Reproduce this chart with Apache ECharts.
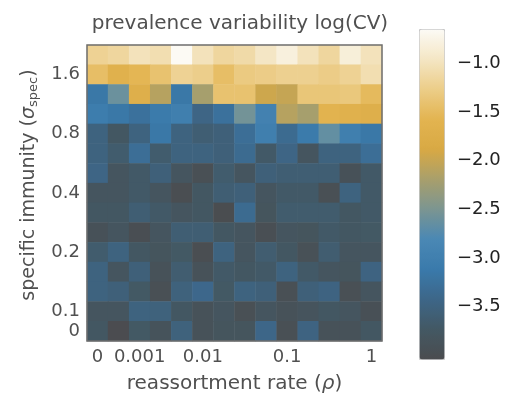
<!DOCTYPE html>
<html>
<head>
<meta charset="utf-8">
<script src="https://cdn.jsdelivr.net/npm/echarts@6/dist/echarts.min.js"></script>
<style>
  html, body { margin: 0; padding: 0; background: #fff; }
  #container { width: 507px; height: 410px; }
</style>
</head>
<body>
<div id="container"></div>
<script>
// reassortment rate (columns) and specific immunity (rows, bottom to top)
var rhoValues = ['0', '0.0005', '0.001', '0.002', '0.005', '0.01', '0.02', '0.03', '0.05', '0.1', '0.2', '0.3', '0.5', '1'];
var rhoTickLabels = ['0', '0.001', '0.01', '0.1', '1'];
var sigmaValues = ['0', '0.1', '0.126', '0.159', '0.2', '0.252', '0.317', '0.4', '0.504', '0.635', '0.8', '1.01', '1.27', '1.6', '2.02'];
var sigmaTickLabels = ['0', '0.1', '0.2', '0.4', '0.8', '1.6'];
var colorbarLabels = [-1.0, -1.5, -2.0, -2.5, -3.0, -3.5];
var colorbarTicks = [];
for (var t = -40; t <= -7; t++) colorbarTicks.push(t / 10);

// log(CV), rows listed from top (largest sigma) to bottom (sigma = 0)
var logCV = [
    [-1.2, -1.15, -1.0, -1.05, -0.65, -1.0, -1.15, -1.1, -0.95, -0.8, -1.0, -1.15, -0.82, -1.0],
    [-1.45, -1.65, -1.55, -1.4, -1.2, -1.25, -1.45, -1.3, -1.27, -1.22, -1.22, -1.27, -1.2, -1.05],
    [-3.15, -2.6, -1.7, -2.1, -3.15, -2.2, -1.4, -1.4, -1.95, -2.0, -1.35, -1.35, -1.33, -1.5],
    [-3.05, -3.15, -3.25, -3.1, -3.0, -3.45, -3.25, -2.55, -2.95, -2.1, -2.2, -1.6, -1.65, -1.7],
    [-3.5, -3.75, -3.5, -3.15, -3.5, -3.6, -3.55, -3.3, -3.0, -3.35, -3.1, -2.65, -3.0, -3.15],
    [-3.5, -3.65, -3.3, -3.65, -3.5, -3.5, -3.55, -3.35, -3.7, -3.45, -3.8, -3.5, -3.5, -3.3],
    [-3.45, -3.8, -3.7, -3.55, -3.8, -3.95, -3.65, -3.8, -3.55, -3.6, -3.6, -3.6, -3.9, -3.7],
    [-3.8, -3.8, -3.7, -3.8, -4.0, -3.75, -3.6, -3.55, -3.8, -3.7, -3.7, -3.95, -3.5, -3.7],
    [-3.75, -3.75, -3.6, -3.7, -3.8, -3.75, -4.02, -3.35, -3.82, -3.65, -3.65, -3.65, -3.75, -3.7],
    [-3.9, -3.8, -3.98, -3.8, -3.6, -3.6, -3.75, -3.8, -3.97, -3.8, -3.82, -3.7, -3.75, -3.72],
    [-3.65, -3.5, -3.75, -3.82, -3.72, -4.0, -3.5, -3.8, -3.62, -3.75, -3.92, -3.62, -3.8, -3.8],
    [-3.5, -3.8, -3.55, -3.88, -3.62, -3.88, -3.7, -3.75, -3.7, -3.5, -3.7, -3.8, -3.82, -3.48],
    [-3.5, -3.55, -3.72, -3.95, -3.52, -3.4, -3.72, -3.5, -3.55, -3.95, -3.55, -3.48, -3.95, -3.8],
    [-3.8, -3.8, -3.5, -3.52, -3.75, -3.88, -3.8, -3.95, -3.8, -3.88, -3.83, -3.75, -3.8, -3.93],
    [-3.75, -4.03, -3.72, -3.85, -3.52, -3.88, -3.82, -3.82, -3.42, -3.95, -3.48, -3.88, -3.88, -3.75]
];

var scaleMin = -4.04;
var scaleMax = -0.646;
// gradient from dark slate (low) through blue, khaki, gold to white (high)
var palette = ['#4b4c4f', '#435863', '#3d6688', '#3a7aab', '#4a88b4', '#7b9591',
    '#a89f6c', '#d8a944', '#e3b450', '#eccd88', '#f4e6c4', '#fcfaf5'];

var font = 'DejaVu Sans, sans-serif';
var textColor = '#505050';

var cells = [];
for (var r = 0; r < logCV.length; r++) {
    var yi = sigmaValues.length - 1 - r;
    for (var c = 0; c < rhoValues.length; c++) {
        cells.push([c, yi, logCV[r][c]]);
    }
}

var myChart = echarts.init(document.getElementById('container'));
var option = {
    animation: false,
    textStyle: {fontFamily: font},
    title: {
        text: 'prevalence variability log(CV)',
        left: 235,
        textAlign: 'center',
        top: 9,
        textStyle: {fontSize: 20, fontWeight: 'normal', color: textColor, fontFamily: font}
    },
    grid: [
        {left: 87, top: 45, width: 295, height: 296, show: true, z: 5,
            borderColor: '#6e6e6e', borderWidth: 1.5, backgroundColor: 'transparent'},
        {left: 419, top: 29, width: 25, height: 330, show: false}
    ],
    xAxis: [
        {
            type: 'category',
            data: rhoValues,
            gridIndex: 0,
            name: '{t|reassortment rate (}{i|ρ}{t|)}',
            nameLocation: 'middle',
            nameGap: 33,
            nameTextStyle: {
                fontSize: 20, color: textColor,
                rich: {
                    t: {fontSize: 20, color: textColor, fontFamily: font},
                    i: {fontSize: 20, color: textColor, fontFamily: font, fontStyle: 'italic'}
                }
            },
            axisLine: {show: false},
            axisTick: {
                show: true, inside: true, length: 3, alignWithLabel: true,
                lineStyle: {color: '#888'},
                interval: function (i) { return rhoTickLabels.indexOf(rhoValues[i]) >= 0; }
            },
            axisLabel: {
                interval: 0, fontSize: 18, color: textColor, margin: 7, fontFamily: font,
                formatter: function (v) { return rhoTickLabels.indexOf(v) >= 0 ? v : ''; }
            },
            splitLine: {show: false}
        },
        {type: 'value', gridIndex: 1, show: false, min: 0, max: 1}
    ],
    yAxis: [
        {
            type: 'category',
            data: sigmaValues,
            gridIndex: 0,
            name: '{t|specific immunity (}{i|σ}{s|spec}{t|)}',
            nameLocation: 'middle',
            nameGap: 43,
            nameTextStyle: {
                fontSize: 19, color: textColor,
                padding: [0, 0, 0, 16],
                rich: {
                    t: {fontSize: 19, color: textColor, fontFamily: font},
                    i: {fontSize: 19, color: textColor, fontFamily: font, fontStyle: 'italic'},
                    s: {fontSize: 13, color: textColor, fontFamily: font, verticalAlign: 'bottom', padding: [10, 0, 0, 0]}
                }
            },
            axisLine: {show: false},
            axisTick: {show: true, inside: true, length: 3, alignWithLabel: true,
                lineStyle: {color: '#666'}},
            axisLabel: {
                interval: 0, fontSize: 18, color: textColor, margin: 7, fontFamily: font,
                formatter: function (v) { return sigmaTickLabels.indexOf(v) >= 0 ? v : ''; }
            },
            splitLine: {show: false}
        },
        {
            type: 'value',
            gridIndex: 1,
            position: 'right',
            min: scaleMin,
            max: scaleMax,
            axisLine: {show: false},
            axisTick: {show: true, length: 5, customValues: colorbarTicks,
                lineStyle: {color: '#b0b0b0'}},
            axisLabel: {
                customValues: colorbarLabels, fontSize: 18, color: '#222', margin: 13, fontFamily: font,
                formatter: function (v) { return v.toFixed(1).replace('-', '\u2212'); }
            },
            splitLine: {show: false}
        }
    ],
    visualMap: {
        type: 'continuous',
        seriesIndex: 0,
        min: scaleMin,
        max: scaleMax,
        calculable: false,
        hoverLink: false,
        realtime: false,
        left: 419,
        top: 29,
        padding: 0,
        itemWidth: 25,
        itemHeight: 330,
        text: null,
        showLabel: false,
        borderColor: '#c8c8c8',
        borderWidth: 1,
        inRange: {color: palette}
    },
    series: [
        {
            type: 'heatmap',
            xAxisIndex: 0,
            yAxisIndex: 0,
            data: cells,
            itemStyle: {borderWidth: 0},
            emphasis: {disabled: true}
        }
    ]
};

myChart.setOption(option);
</script>
</body>
</html>
